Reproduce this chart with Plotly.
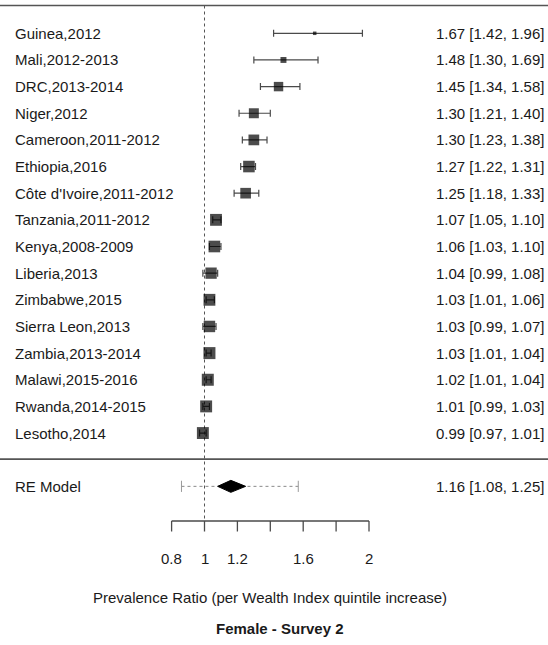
import math
import plotly.graph_objects as go

# Study-level estimates (prevalence ratio with 95% CI)
STUDIES = [
    "Guinea,2012", "Mali,2012-2013", "DRC,2013-2014", "Niger,2012",
    "Cameroon,2011-2012", "Ethiopia,2016", "Côte d'Ivoire,2011-2012",
    "Tanzania,2011-2012", "Kenya,2008-2009", "Liberia,2013", "Zimbabwe,2015",
    "Sierra Leon,2013", "Zambia,2013-2014", "Malawi,2015-2016",
    "Rwanda,2014-2015", "Lesotho,2014",
]
ESTIMATE = [1.67, 1.48, 1.45, 1.30, 1.30, 1.27, 1.25, 1.07, 1.06, 1.04,
            1.03, 1.03, 1.03, 1.02, 1.01, 0.99]
CI_LOW = [1.42, 1.30, 1.34, 1.21, 1.23, 1.22, 1.18, 1.05, 1.03, 0.99,
          1.01, 0.99, 1.01, 1.01, 0.99, 0.97]
CI_HIGH = [1.96, 1.69, 1.58, 1.40, 1.38, 1.31, 1.33, 1.10, 1.10, 1.08,
           1.06, 1.07, 1.04, 1.04, 1.03, 1.01]

# Random-effects summary
RE_LABEL = "RE Model"
RE_EST, RE_LOW, RE_HIGH = 1.16, 1.08, 1.25
RE_PI_LOW, RE_PI_HIGH = 0.86, 1.57

TICK_VALUES = [0.8, 1.0, 1.2, 1.4, 1.6, 1.8, 2.0]
TICK_LABELS = ["0.8", "1", "1.2", "", "1.6", "", "2"]

X_LABEL = "Prevalence Ratio (per Wealth Index quintile increase)"
TITLE = "Female - Survey 2"

# ---- layout geometry (pixels) ----
W, H = 548, 645
PX_PER_UNIT = 164.5
ONE_PX = 204.5          # pixel column of ratio = 1
ROW0_PX = 33.3          # pixel row of first study
ROW_PX = 26.65          # pixel spacing between rows

FONT = "Liberation Sans, Arial, sans-serif"
TEXT = "#1a1a1a"
LINE = "#4a4a4a"


def row_of(px):
    return (px - ROW0_PX) / ROW_PX


def ypaper(px):
    return 1 - px / H


n = len(STUDIES)
rows = list(range(n))
RE_ROW = n + 1
SEP_ROW = n
TOP_ROW = row_of(5.5)
AXIS_ROW = row_of(521)
TICK_LEN = 10.5 / ROW_PX

# point sizes from RE weights, rescaled like metafor does
TAU2 = 0.025
w = []
for lo, hi in zip(CI_LOW, CI_HIGH):
    se = (math.log(hi) - math.log(lo)) / (2 * 1.96)
    w.append(1 / (se ** 2 + TAU2))
wmin, wmax = min(w), max(w)
sizes = [3.5 + 8.5 * (v - wmin) / (wmax - wmin) for v in w]

fig = go.Figure()

# CI whiskers first so the squares sit on top
fig.add_trace(go.Scatter(
    x=ESTIMATE, y=rows, mode="markers",
    marker=dict(size=1, color="rgba(0,0,0,0)"),
    error_x=dict(
        type="data", symmetric=False,
        array=[h - e for h, e in zip(CI_HIGH, ESTIMATE)],
        arrayminus=[e - l for e, l in zip(ESTIMATE, CI_LOW)],
        color=LINE, thickness=1.2, width=3.5,
    ),
    hoverinfo="skip", showlegend=False,
))
fig.add_trace(go.Scatter(
    x=ESTIMATE, y=rows, mode="markers",
    marker=dict(symbol="square", size=sizes, color="black", line=dict(width=0)),
    hoverinfo="skip", showlegend=False,
))

# prediction interval (dotted) with caps
fig.add_trace(go.Scatter(
    x=[RE_PI_LOW, RE_PI_HIGH], y=[RE_ROW, RE_ROW], mode="lines",
    line=dict(color="#8a8a8a", width=1, dash="dot"),
    hoverinfo="skip", showlegend=False,
))
fig.add_trace(go.Scatter(
    x=[RE_PI_LOW, RE_PI_HIGH], y=[RE_ROW, RE_ROW], mode="markers",
    marker=dict(symbol="line-ns", size=8, line=dict(color="#9a9a9a", width=1)),
    hoverinfo="skip", showlegend=False,
))

# summary diamond
dh = 6 / ROW_PX
fig.add_trace(go.Scatter(
    x=[RE_LOW, RE_EST, RE_HIGH, RE_EST, RE_LOW],
    y=[RE_ROW, RE_ROW - dh, RE_ROW, RE_ROW + dh, RE_ROW],
    mode="lines", fill="toself", fillcolor="black",
    line=dict(color="black", width=1),
    hoverinfo="skip", showlegend=False,
))

# x axis drawn R-style
fig.add_trace(go.Scatter(
    x=[TICK_VALUES[0], TICK_VALUES[-1]], y=[AXIS_ROW, AXIS_ROW], mode="lines",
    line=dict(color=LINE, width=1.3), hoverinfo="skip", showlegend=False,
))
tx, ty = [], []
for t in TICK_VALUES:
    tx += [t, t, None]
    ty += [AXIS_ROW, AXIS_ROW + TICK_LEN, None]
fig.add_trace(go.Scatter(
    x=tx, y=ty, mode="lines", line=dict(color=LINE, width=1.3),
    hoverinfo="skip", showlegend=False,
))

# reference line at 1 and horizontal rules
fig.add_shape(type="line", xref="x", yref="y", x0=1, x1=1, y0=TOP_ROW, y1=AXIS_ROW,
              line=dict(color="#555555", width=1, dash="dot"), layer="below")
for r in (TOP_ROW, SEP_ROW - 0.02):
    fig.add_shape(type="line", xref="paper", yref="y", x0=0, x1=1, y0=r, y1=r,
                  line=dict(color="#555555", width=1.6))

ann = []
for i, (name, e, lo, hi) in enumerate(zip(STUDIES, ESTIMATE, CI_LOW, CI_HIGH)):
    ann.append(dict(x=13 / W, xref="paper", y=i, yref="y", text=name,
                    xanchor="left", yanchor="middle", showarrow=False))
    ann.append(dict(x=546 / W, xref="paper", y=i, yref="y",
                    text=f"{e:.2f} [{lo:.2f}, {hi:.2f}]",
                    xanchor="right", yanchor="middle", showarrow=False))
ann.append(dict(x=13 / W, xref="paper", y=RE_ROW, yref="y", text=RE_LABEL,
                xanchor="left", yanchor="middle", showarrow=False))
ann.append(dict(x=546 / W, xref="paper", y=RE_ROW, yref="y",
                text=f"{RE_EST:.2f} [{RE_LOW:.2f}, {RE_HIGH:.2f}]",
                xanchor="right", yanchor="middle", showarrow=False))
for t, lab in zip(TICK_VALUES, TICK_LABELS):
    if lab:
        ann.append(dict(x=t, xref="x", y=ypaper(558), yref="paper", text=lab,
                        xanchor="center", yanchor="middle", showarrow=False))
ann.append(dict(x=270 / W, xref="paper", y=ypaper(597), yref="paper", text=X_LABEL,
                xanchor="center", yanchor="middle", showarrow=False))
ann.append(dict(x=280 / W, xref="paper", y=ypaper(628), yref="paper",
                text=f"<b>{TITLE}</b>",
                xanchor="center", yanchor="middle", showarrow=False))

fig.update_layout(
    width=W, height=H,
    margin=dict(l=0, r=0, t=0, b=0),
    paper_bgcolor="white", plot_bgcolor="white",
    font=dict(family=FONT, size=15, color=TEXT),
    annotations=ann,
    xaxis=dict(range=[1 - ONE_PX / PX_PER_UNIT, 1 + (W - ONE_PX) / PX_PER_UNIT],
               visible=False, fixedrange=True),
    yaxis=dict(range=[row_of(H), row_of(0)], visible=False, fixedrange=True),
)

# page body has an 8px default margin; drop it so the figure fills the window
fig.write_html("out.html", config=dict(displayModeBar=False),
               post_script="document.body.style.margin='0';document.body.style.overflow='hidden';")
